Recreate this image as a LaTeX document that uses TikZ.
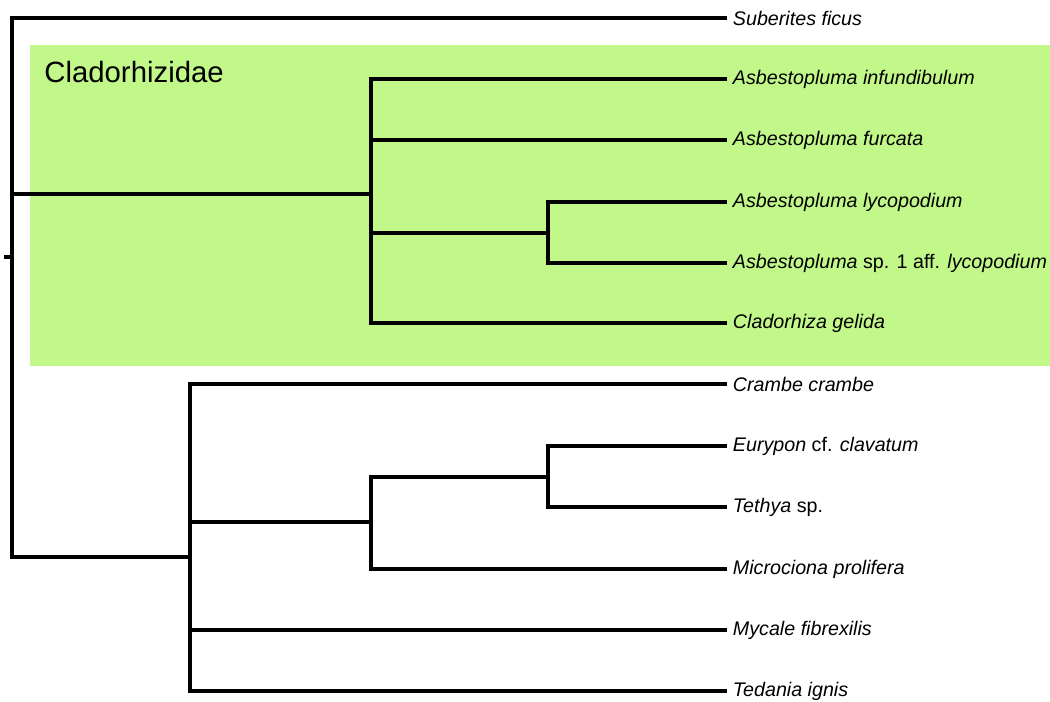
\documentclass[tikz,border=0pt]{standalone}
\usepackage{fontspec}
\setmainfont{Liberation Sans}
\usetikzlibrary{positioning}
\definecolor{cladgreen}{RGB}{194,247,138}
\tikzset{
  leaf/.style={anchor=west, inner sep=3.2pt, font=\fontsize{11.2}{13}\selectfont},
  branch/.style={line width=2.2pt, line join=miter},
}
\begin{document}
\begin{tikzpicture}[x=0.02cm, y=-0.02cm]
\useasboundingbox (0,0) rectangle (1050,702);
\fill[cladgreen] (30,45) rectangle (1050,366);
\node[anchor=west, inner sep=0pt, font=\fontsize{16.7}{19}\selectfont] (cladlab) at (44,72) {Cladorhizidae};
% tips
\node[leaf] (sfic) at (727,18)  {\textit{Suberites ficus}};
\node[leaf] (ainf) at (727,79)  {\textit{Asbestopluma infundibulum}};
\node[leaf] (afur) at (727,140) {\textit{Asbestopluma furcata}};
\node[leaf] (alyc) at (727,202) {\textit{Asbestopluma lycopodium}};
\node[leaf] (asp1) at (727,263) {\textit{Asbestopluma} sp. 1 aff. \textit{lycopodium}};
\node[leaf] (cgel) at (727,323) {\textit{Cladorhiza gelida}};
\node[leaf] (ccra) at (727,384) {\textit{Crambe crambe}};
\node[leaf] (ecla) at (727,446) {\textit{Eurypon} cf. \textit{clavatum}};
\node[leaf] (tsp)  at (727,507) {\textit{Tethya} sp.};
\node[leaf] (mpro) at (727,569) {\textit{Microciona prolifera}};
\node[leaf] (mfib) at (727,630) {\textit{Mycale fibrexilis}};
\node[leaf] (tign) at (727,691) {\textit{Tedania ignis}};
% internal nodes
\coordinate (stem) at (4,257);
\coordinate (root) at (12,257);
\coordinate (clad) at (371,194);
\coordinate (lycp) at (548,233);
\coordinate (poec) at (190,557);
\coordinate (micr) at (371,522);
\coordinate (euty) at (548,477);
\draw[branch] (stem) -- (root);
\draw[branch] (root) |- (sfic.west) (root) |- (clad) (root) |- (poec);
\draw[branch] (clad) |- (ainf.west) (clad) |- (afur.west) (clad) |- (lycp) (clad) |- (cgel.west);
\draw[branch] (lycp) |- (alyc.west) (lycp) |- (asp1.west);
\draw[branch] (poec) |- (ccra.west) (poec) |- (micr) (poec) |- (mfib.west) (poec) |- (tign.west);
\draw[branch] (micr) |- (euty) (micr) |- (mpro.west);
\draw[branch] (euty) |- (ecla.west) (euty) |- (tsp.west);
\end{tikzpicture}
\end{document}
